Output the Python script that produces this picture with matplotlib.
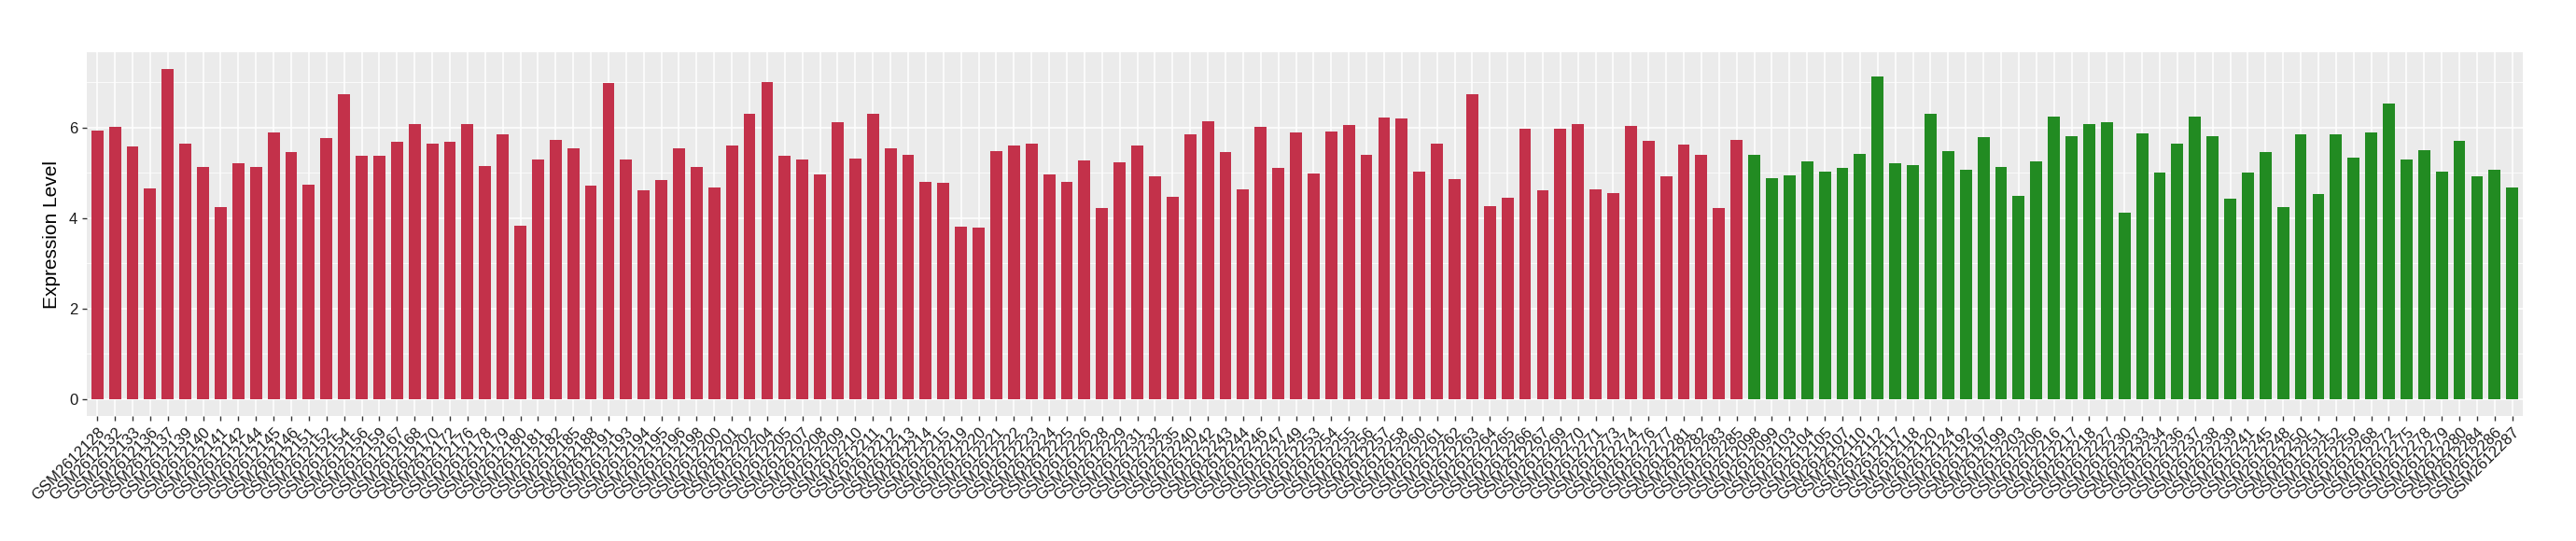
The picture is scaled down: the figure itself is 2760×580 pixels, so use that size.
import matplotlib.pyplot as plt
import numpy as np

plt.rcParams['font.family'] = ['Liberation Sans', 'DejaVu Sans']

# sample ids (suffix after GSM2612) and expression values
tumor_ids = ['128', '132', '133', '136', '137', '139', '140', '141', '142', '144',
             '145', '146', '151', '152', '154', '156', '159', '167', '168', '170',
             '172', '176', '178', '179', '180', '181', '182', '185', '188', '191',
             '193', '194', '195', '196', '198', '200', '201', '202', '204', '205',
             '207', '208', '209', '210', '211', '212', '213', '214', '215', '219',
             '220', '221', '222', '223', '224', '225', '226', '228', '229', '231',
             '232', '235', '240', '242', '243', '244', '246', '247', '249', '253',
             '254', '255', '256', '257', '258', '260', '261', '262', '263', '264',
             '265', '266', '267', '269', '270', '271', '273', '274', '276', '277',
             '281', '282', '283', '285']
tumor_vals = [5.94, 6.02, 5.59, 4.66, 7.29, 5.65, 5.14, 4.25, 5.22, 5.12,
              5.90, 5.47, 4.73, 5.77, 6.74, 5.38, 5.38, 5.69, 6.08, 5.65,
              5.69, 6.08, 5.16, 5.86, 3.84, 5.30, 5.73, 5.55, 4.71, 6.99,
              5.30, 4.62, 4.85, 5.55, 5.12, 4.68, 5.61, 6.31, 7.01, 5.38,
              5.30, 4.97, 6.12, 5.32, 6.31, 5.55, 5.40, 4.81, 4.79, 3.82,
              3.80, 5.49, 5.61, 5.65, 4.97, 4.81, 5.28, 4.23, 5.24, 5.61,
              4.92, 4.48, 5.86, 6.14, 5.47, 4.64, 6.02, 5.10, 5.90, 4.99,
              5.92, 6.06, 5.40, 6.23, 6.21, 5.03, 5.65, 4.87, 6.74, 4.27,
              4.45, 5.98, 4.62, 5.98, 6.08, 4.64, 4.56, 6.04, 5.71, 4.92,
              5.63, 5.40, 4.23, 5.73]

normal_ids = ['098', '099', '103', '104', '105', '107', '110', '112', '117', '118',
              '120', '124', '192', '197', '199', '203', '206', '216', '217', '218',
              '227', '230', '233', '234', '236', '237', '238', '239', '241', '245',
              '248', '250', '251', '252', '259', '268', '272', '275', '278', '279',
              '280', '284', '286', '287']
normal_vals = [5.40, 4.89, 4.95, 5.26, 5.03, 5.10, 5.42, 7.13, 5.21, 5.18,
               6.31, 5.49, 5.06, 5.79, 5.14, 4.50, 5.26, 6.25, 5.82, 6.08,
               6.12, 4.13, 5.88, 5.01, 5.65, 6.25, 5.82, 4.42, 5.01, 5.45,
               4.25, 5.86, 4.54, 5.86, 5.34, 5.90, 6.53, 5.30, 5.51, 5.03,
               5.71, 4.93, 5.06, 4.68]

labels = ['GSM2612' + s for s in tumor_ids + normal_ids]
vals = tumor_vals + normal_vals
colors = ['#C3314A'] * len(tumor_vals) + ['#228B22'] * len(normal_vals)
x = np.arange(len(vals))

fig = plt.figure(figsize=(27.6, 5.8), dpi=100)
ax = fig.add_axes([0.03366, 0.2316, 0.9457, 0.671])
ax.set_facecolor('#EBEBEB')

ax.bar(x, vals, width=0.68, color=colors, zorder=3)

ax.set_xlim(-0.6, len(vals) - 0.4)
top = max(vals)
ax.set_ylim(-0.05 * top, top * 1.05)
ax.set_yticks([0, 2, 4, 6])
ax.set_yticks([1, 3, 5, 7], minor=True)
ax.set_xticks(x)
ax.set_xticklabels(labels, rotation=45, ha='right', va='top',
                   rotation_mode='anchor', fontsize=12, color='#1a1a1a')
ax.tick_params(axis='y', labelsize=12, labelcolor='#1a1a1a')
ax.tick_params(which='major', length=3.5, width=1, color='#333333')
ax.tick_params(which='minor', length=0)

ax.grid(which='major', color='white', linewidth=1.1, zorder=0)
ax.grid(which='minor', axis='y', color='white', linewidth=0.55, zorder=0)
ax.set_axisbelow(True)
for s in ax.spines.values():
    s.set_visible(False)

ax.set_ylabel('Expression Level', fontsize=15, labelpad=6)

fig.savefig('out.png', dpi=100)
